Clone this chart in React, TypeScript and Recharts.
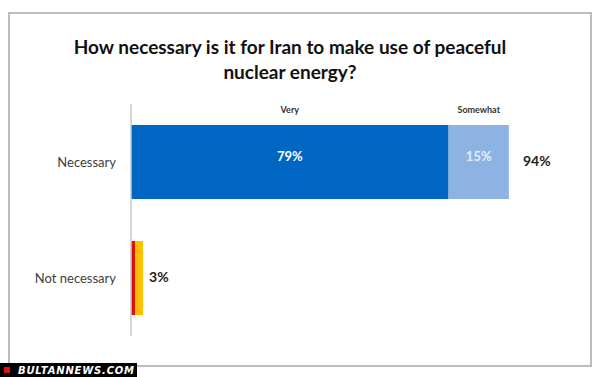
import React from 'react';
import { BarChart, Bar, XAxis, YAxis, LabelList } from 'recharts';

const categories = ['Necessary', 'Not necessary'];
const veryValues = [79, 0];
const somewhatValues = [15, 0];
const notAtAllValues = [0, 1];
const notVeryValues = [0, 2];
const totals = [94, 3];

const chartData = categories.map((name, i) => ({
  name,
  very: veryValues[i],
  somewhat: somewhatValues[i],
  notAtAll: notAtAllValues[i],
  notVery: notVeryValues[i],
  total: totals[i],
}));

const FONT = 'Lato, "Open Sans", sans-serif';

// series name drawn above the first row's segment
const headerLabel = (title: string) => (props: any) => {
  const { x, y, width, value, index } = props;
  if (index !== 0 || !value) return null;
  return (
    <text x={x + width / 2} y={y - 12} textAnchor="middle" fontSize={9} fontWeight={700} fill="#333" fontFamily={FONT}>
      {title}
    </text>
  );
};

const insideLabel = (color: string) => (props: any) => {
  const { x, y, width, height, value } = props;
  if (!value) return null;
  return (
    <text x={x + width / 2} y={y + height / 2 - 4} textAnchor="middle" dominantBaseline="middle" fontSize={13} fontWeight={700} fill={color} fontFamily={FONT}>
      {value}%
    </text>
  );
};

// row total, drawn right of the last visible segment
const totalLabel = (gap: number) => (props: any) => {
  const { x, y, width, height, value } = props;
  if (!width || width < 1) return null;
  return (
    <text x={x + width + gap} y={y + height / 2} textAnchor="start" dominantBaseline="middle" fontSize={14} fontWeight={700} fill="#222" fontFamily={FONT}>
      {value}%
    </text>
  );
};

export default function App() {
  return (
    <div style={{ position: 'absolute', left: 0, top: 0, width: 600, height: 377, background: '#fff', overflow: 'hidden' }}>
      {/* frame */}
      <div style={{ position: 'absolute', left: 8, top: 12, width: 580, height: 351, border: '2px solid #bdbdbd' }} />
      <div style={{ position: 'absolute', left: 0, top: 34, width: 580, textAlign: 'center', fontFamily: FONT, fontSize: 19, fontWeight: 700, color: '#111', lineHeight: '25px' }}>
        How necessary is it for Iran to make use of peaceful
        <br />
        nuclear energy?
      </div>
      <div style={{ position: 'absolute', left: 0, top: 0 }}>
        <BarChart
          width={600}
          height={377}
          layout="vertical"
          data={chartData}
          margin={{ top: 104, right: 67, bottom: 41, left: 0 }}
          barSize={74}
        >
          <XAxis type="number" domain={[0, 100]} hide />
          <YAxis
            type="category"
            dataKey="name"
            width={131}
            axisLine={{ stroke: '#c8c8c8', strokeWidth: 1.5 }}
            tickLine={false}
            tickMargin={9}
            tick={{ fontSize: 13, fill: '#404040', fontFamily: FONT }}
          />
          <Bar dataKey="very" stackId="a" fill="#0066c4" isAnimationActive={false}>
            <LabelList dataKey="very" content={headerLabel('Very')} />
            <LabelList dataKey="very" content={insideLabel('#ffffff')} />
          </Bar>
          <Bar dataKey="somewhat" stackId="a" fill="#8db3e2" isAnimationActive={false}>
            <LabelList dataKey="somewhat" content={headerLabel('Somewhat')} />
            <LabelList dataKey="somewhat" content={insideLabel('#e4edf8')} />
            <LabelList dataKey="total" content={totalLabel(14)} />
          </Bar>
          <Bar dataKey="notAtAll" stackId="a" fill="#e01010" isAnimationActive={false} />
          <Bar dataKey="notVery" stackId="a" fill="#ffc000" isAnimationActive={false}>
            <LabelList dataKey="total" content={totalLabel(6)} />
          </Bar>
        </BarChart>
      </div>
      {/* watermark */}
      <div style={{ position: 'absolute', left: 0, top: 363, width: 137, height: 14, background: '#000', display: 'flex', alignItems: 'center' }}>
        <div style={{ width: 6, height: 6, background: '#d11', marginLeft: 4, marginRight: 8 }} />
        <span style={{ color: '#fff', fontFamily: '"DejaVu Sans", sans-serif', fontStyle: 'italic', fontWeight: 700, fontSize: 10, letterSpacing: 0.8 }}>
          BULTANNEWS.COM
        </span>
      </div>
    </div>
  );
}
